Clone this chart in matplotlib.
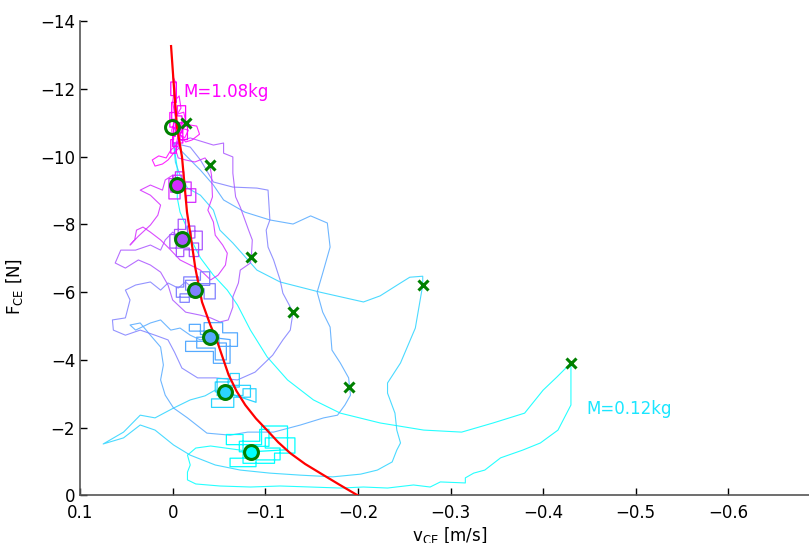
import matplotlib
matplotlib.use("Agg")
import matplotlib.pyplot as plt

# masses (kg) and their colours (MATLAB "cool" map: cyan -> magenta)
masses = [0.12, 0.28, 0.44, 0.60, 0.76, 0.92, 1.08]
colors = [(0.0, 1.0, 1.0), (0.167, 0.833, 1.0), (0.333, 0.667, 1.0),
          (0.5, 0.5, 1.0), (0.667, 0.333, 1.0), (0.833, 0.167, 1.0),
          (1.0, 0.0, 1.0)]

# steady isometric points (circles) and peak-velocity points (crosses)
v_circ = [-0.085, -0.056, -0.040, -0.0245, -0.010, -0.0047, 0.0006]
f_circ = [-1.29, -3.06, -4.67, -6.06, -7.57, -9.16, -10.88]
v_peak = [-0.430, -0.270, -0.1906, -0.130, -0.0846, -0.040, -0.0148]
f_peak = [-3.90, -6.21, -3.19, -5.42, -7.05, -9.75, -10.99]

# Hill force-velocity curve
v_hill = [0.0017, -0.0011, -0.0047, -0.0101, -0.0155, -0.0209, -0.0245, -0.0317,
          -0.0407, -0.0479, -0.0604, -0.069, -0.0784, -0.090, -0.1018, -0.114,
          -0.1269, -0.143, -0.1593, -0.180, -0.2]
f_hill = [-13.26, -12.17, -10.87, -9.99, -8.36, -7.39, -6.71, -5.71,
          -5.03, -4.56, -3.56, -3.08, -2.67, -2.27, -1.93, -1.57,
          -1.25, -0.93, -0.66, -0.32, 0.0]

# measured trajectories, one per mass (release -> peak velocity -> settle)
v_012 = [-0.001, -0.005, -0.005, -0.008, -0.014, -0.019, -0.030, -0.044, -0.059, -0.070,
         -0.084, -0.102, -0.124, -0.152, -0.181, -0.224, -0.271, -0.312, -0.346, -0.380,
         -0.400, -0.415, -0.430, -0.430, -0.416, -0.397, -0.378, -0.354, -0.337, -0.325,
         -0.316, -0.316, -0.289, -0.278, -0.260, -0.232, -0.206, -0.181, -0.149, -0.116,
         -0.084, -0.051, -0.025, -0.016, -0.016, -0.019, -0.016, -0.025, -0.041, -0.057,
         -0.073, -0.085]
f_012 = [-10.40, -9.66, -8.78, -8.36, -7.98, -7.60, -7.01, -6.50, -6.06, -5.62,
         -4.88, -4.09, -3.41, -2.82, -2.43, -2.14, -1.93, -1.87, -2.14, -2.43,
         -3.11, -3.50, -3.91, -2.67, -1.93, -1.55, -1.34, -1.11, -0.75, -0.66,
         -0.52, -0.37, -0.40, -0.25, -0.31, -0.22, -0.25, -0.22, -0.25, -0.28,
         -0.25, -0.28, -0.34, -0.46, -0.69, -0.90, -1.19, -1.40, -1.46, -1.40,
         -1.34, -1.28]

v_028 = [-0.001, -0.003, -0.008, -0.016, -0.030, -0.044, -0.051, -0.065, -0.091, -0.116,
         -0.159, -0.206, -0.224, -0.246, -0.256, -0.270, -0.270, -0.262, -0.246, -0.232,
         -0.232, -0.240, -0.242, -0.246, -0.242, -0.237, -0.221, -0.203, -0.173, -0.138,
         -0.105, -0.073, -0.046, -0.019, -0.001, 0.019, 0.035, 0.053, 0.075, 0.053,
         0.035, 0.019, -0.001, -0.019, -0.035, -0.046, -0.056]
f_028 = [-10.40, -9.83, -9.45, -9.07, -8.86, -8.42, -7.83, -7.45, -6.65, -6.30,
         -6.00, -5.71, -5.89, -6.27, -6.44, -6.47, -6.21, -4.94, -3.91, -3.32,
         -3.02, -2.43, -1.93, -1.55, -1.34, -0.99, -0.75, -0.63, -0.55, -0.60,
         -0.66, -0.75, -0.90, -1.19, -1.49, -1.93, -2.08, -1.70, -1.52, -1.87,
         -2.37, -2.29, -2.58, -2.82, -2.94, -3.11, -3.06]

v_044 = [-0.001, -0.014, -0.030, -0.044, -0.055, -0.078, -0.105, -0.130, -0.149, -0.167,
         -0.170, -0.162, -0.156, -0.162, -0.170, -0.172, -0.181, -0.190, -0.191, -0.192,
         -0.186, -0.178, -0.163, -0.138, -0.109, -0.081, -0.062, -0.037, -0.016, -0.001,
         0.008, 0.013, 0.010, 0.013, 0.024, 0.035, 0.046, 0.040, 0.024, 0.013,
         0.002, -0.008, -0.019, -0.030, -0.040]
f_044 = [-10.40, -10.04, -9.60, -9.16, -8.72, -8.36, -8.13, -8.01, -8.25, -8.04,
         -7.33, -6.56, -6.00, -5.41, -4.97, -4.29, -3.91, -3.47, -3.20, -2.96,
         -2.67, -2.37, -2.29, -2.08, -1.87, -1.87, -1.78, -1.84, -2.29, -2.58,
         -2.96, -3.41, -3.85, -4.38, -4.73, -5.09, -5.03, -4.88, -5.09, -5.18,
         -4.88, -4.94, -4.73, -4.59, -4.67]

v_060 = [-0.001, -0.019, -0.030, -0.044, -0.065, -0.091, -0.103, -0.105, -0.101, -0.103,
         -0.109, -0.116, -0.119, -0.130, -0.127, -0.119, -0.108, -0.089, -0.070, -0.046,
         -0.027, -0.010, -0.002, 0.005, 0.019, 0.035, 0.051, 0.064, 0.065, 0.051,
         0.046, 0.051, 0.040, 0.024, 0.013, 0.005, -0.006, -0.014, -0.024]
f_060 = [-10.40, -10.28, -9.90, -9.25, -9.10, -9.07, -9.01, -8.13, -7.83, -7.33,
         -6.95, -6.36, -5.97, -5.41, -4.88, -4.59, -4.14, -3.64, -3.41, -3.47,
         -3.47, -3.76, -4.23, -4.59, -4.73, -4.88, -4.73, -4.88, -5.18, -5.24,
         -5.77, -6.06, -6.21, -6.30, -6.06, -6.27, -6.12, -6.30, -6.06]

v_076 = [-0.001, -0.019, -0.044, -0.055, -0.055, -0.065, -0.065, -0.068, -0.073, -0.082,
         -0.086, -0.085, -0.084, -0.073, -0.071, -0.065, -0.065, -0.060, -0.051, -0.041,
         -0.030, -0.014, 0.000, 0.005, 0.013, 0.024, 0.037, 0.051, 0.062, 0.056,
         0.040, 0.024, 0.013, 0.008, 0.000, -0.010]
f_076 = [-10.40, -10.55, -10.34, -10.40, -10.10, -9.99, -9.51, -8.81, -8.51, -7.83,
         -7.54, -7.04, -6.86, -6.65, -6.27, -5.86, -5.56, -5.18, -5.12, -5.24,
         -5.32, -5.41, -5.77, -6.21, -6.59, -6.80, -6.95, -6.71, -6.86, -7.24,
         -7.24, -7.39, -7.24, -7.54, -7.77, -7.57]

v_092 = [-0.001, -0.006, -0.014, -0.024, -0.035, -0.040, -0.042, -0.043, -0.038, -0.044,
         -0.046, -0.054, -0.059, -0.057, -0.049, -0.041, -0.030, -0.019, -0.008, 0.002,
         0.013, 0.024, 0.032, 0.039, 0.041, 0.046, 0.037, 0.024, 0.016, 0.013,
         0.024, 0.035, 0.024, 0.011, 0.008, 0.000, -0.005]
f_092 = [-10.40, -9.96, -9.90, -9.84, -9.96, -9.75, -9.45, -8.81, -8.42, -8.07,
         -7.68, -7.39, -7.15, -6.80, -6.50, -6.36, -6.65, -6.80, -6.95, -7.24,
         -7.54, -7.77, -7.92, -7.83, -7.54, -7.39, -7.65, -7.98, -8.27, -8.57,
         -8.86, -9.01, -9.16, -9.01, -9.31, -9.45, -9.16]

v_108 = [-0.001, 0.001, -0.003, 0.000, -0.002, 0.000, -0.004, -0.003, -0.007, -0.009,
         -0.005, -0.012, -0.014, -0.009, -0.017, -0.013, -0.006, -0.004, 0.002, 0.007,
         0.015, 0.022, 0.019, 0.011, 0.005, -0.002, -0.008, -0.006, -0.015, -0.019,
         -0.026, -0.029, -0.021, -0.014, -0.006, 0.000]
f_108 = [-10.40, -10.78, -11.14, -11.61, -12.02, -12.38, -12.14, -11.67, -11.79, -11.43,
         -11.25, -11.31, -11.05, -10.84, -10.78, -10.55, -10.69, -10.34, -10.19, -9.96,
         -10.02, -9.90, -9.72, -9.78, -9.90, -10.13, -10.28, -10.55, -11.02, -10.93,
         -10.90, -10.66, -10.49, -10.43, -10.72, -10.87]

# jittery settling around each circle (holding phase)
vc_012 = [-0.085, -0.072, -0.072, -0.094, -0.094, -0.104, -0.104, -0.080, -0.080, -0.062,
          -0.062, -0.090, -0.090, -0.116, -0.116, -0.100, -0.100, -0.132, -0.132, -0.110,
          -0.110, -0.076, -0.076, -0.058, -0.058, -0.096, -0.096, -0.124, -0.124, -0.085]
fc_012 = [-1.29, -1.29, -1.60, -1.60, -1.95, -1.95, -1.45, -1.45, -1.10, -1.10,
          -0.85, -0.85, -1.05, -1.05, -1.40, -1.40, -1.70, -1.70, -1.25, -1.25,
          -0.95, -0.95, -1.80, -1.80, -1.50, -1.50, -2.05, -2.05, -1.35, -1.29]
vc_028 = [-0.056, -0.046, -0.046, -0.062, -0.062, -0.072, -0.072, -0.052, -0.052, -0.042,
          -0.042, -0.066, -0.066, -0.084, -0.084, -0.060, -0.060, -0.048, -0.048, -0.076,
          -0.076, -0.090, -0.090, -0.056]
fc_028 = [-3.06, -3.06, -3.35, -3.35, -3.60, -3.60, -3.20, -3.20, -2.85, -2.85,
          -2.60, -2.60, -2.90, -2.90, -3.25, -3.25, -3.45, -3.45, -2.95, -2.95,
          -3.15, -3.15, -2.75, -3.06]
vc_044 = [-0.040, -0.026, -0.026, -0.046, -0.046, -0.058, -0.058, -0.036, -0.036, -0.018,
          -0.018, -0.030, -0.030, -0.050, -0.050, -0.070, -0.070, -0.054, -0.054, -0.034,
          -0.034, -0.014, -0.014, -0.044, -0.044, -0.062, -0.062, -0.040]
fc_044 = [-4.67, -4.67, -4.35, -4.35, -4.00, -4.00, -4.50, -4.50, -4.85, -4.85,
          -5.05, -5.05, -4.75, -4.75, -4.40, -4.40, -4.80, -4.80, -5.10, -5.10,
          -4.55, -4.55, -4.25, -4.25, -3.90, -3.90, -4.60, -4.67]
vc_060 = [-0.024, -0.014, -0.014, -0.030, -0.030, -0.040, -0.040, -0.022, -0.022, -0.008,
          -0.008, -0.018, -0.018, -0.034, -0.034, -0.046, -0.046, -0.028, -0.028, -0.012,
          -0.012, -0.004, -0.004, -0.026, -0.026, -0.024]
fc_060 = [-6.06, -6.06, -6.35, -6.35, -6.60, -6.60, -6.20, -6.20, -5.95, -5.95,
          -5.70, -5.70, -6.10, -6.10, -5.80, -5.80, -6.25, -6.25, -6.45, -6.45,
          -6.15, -6.15, -5.85, -5.85, -6.00, -6.06]
vc_076 = [-0.010, -0.002, -0.002, -0.014, -0.014, -0.006, -0.006, 0.003, 0.003, -0.018,
          -0.018, -0.028, -0.028, -0.020, -0.020, -0.032, -0.032, -0.012, -0.012, -0.004,
          -0.004, -0.016, -0.016, -0.024, -0.024, -0.010]
fc_076 = [-7.57, -7.57, -7.85, -7.85, -8.15, -8.15, -7.70, -7.70, -7.30, -7.30,
          -7.05, -7.05, -7.45, -7.45, -7.80, -7.80, -7.25, -7.25, -7.05, -7.05,
          -7.40, -7.40, -7.95, -7.95, -7.60, -7.57]
vc_092 = [-0.005, 0.002, 0.002, -0.008, -0.008, 0.004, 0.004, -0.003, -0.003, -0.012,
          -0.012, -0.020, -0.020, -0.015, -0.015, -0.025, -0.025, -0.010, -0.010, 0.000,
          0.000, -0.006, -0.006, -0.014, -0.014, -0.005]
fc_092 = [-9.16, -9.16, -8.95, -8.95, -8.75, -8.75, -9.35, -9.35, -9.55, -9.55,
          -9.25, -9.25, -8.85, -8.85, -8.65, -8.65, -9.05, -9.05, -9.45, -9.45,
          -9.30, -9.30, -9.00, -9.00, -9.20, -9.16]
vc_108 = [0.000, 0.003, 0.003, -0.002, -0.002, 0.002, 0.002, -0.004, -0.004, 0.001,
          0.001, -0.003, -0.003, 0.000, 0.000, -0.006, -0.006, -0.010, -0.010, -0.005,
          -0.005, -0.014, -0.014, -0.008, -0.008, -0.016, -0.016, -0.011, -0.011, -0.004,
          -0.004, 0.002, 0.002, -0.001, -0.001, -0.007, -0.007, 0.000]
fc_108 = [-10.87, -10.87, -11.30, -11.30, -11.80, -11.80, -12.20, -12.20, -11.60, -11.60,
          -11.10, -11.10, -10.60, -10.60, -10.30, -10.30, -10.70, -10.70, -11.20, -11.20,
          -11.50, -11.50, -11.00, -11.00, -10.50, -10.50, -10.90, -10.90, -10.40, -10.40,
          -10.10, -10.10, -10.50, -10.50, -11.00, -11.00, -10.80, -10.87]

traj_v = [v_012, v_028, v_044, v_060, v_076, v_092, v_108]
traj_f = [f_012, f_028, f_044, f_060, f_076, f_092, f_108]
hold_v = [vc_012, vc_028, vc_044, vc_060, vc_076, vc_092, vc_108]
hold_f = [fc_012, fc_028, fc_044, fc_060, fc_076, fc_092, fc_108]

fig = plt.figure(figsize=(8.09, 5.43), dpi=100)
ax = fig.add_axes([0.0989, 0.0875, 0.9011, 0.8738])

for vv, ff, c in zip(traj_v, traj_f, colors):
    ax.plot(vv, ff, color=c, lw=0.8, alpha=0.85, zorder=2)
for vv, ff, c in zip(hold_v, hold_f, colors):
    ax.plot(vv, ff, color=c, lw=0.9, zorder=2)

ax.plot(v_hill, f_hill, color="red", lw=1.6, zorder=3)

for i, c in enumerate(colors):
    face = "none" if masses[i] == 1.08 else c
    ax.plot(v_circ[i], f_circ[i], "o", ms=10, mfc=face, mec="green", mew=2.2, zorder=4)
    ax.plot(v_peak[i], f_peak[i], "x", ms=7, color="green", mew=2.2, zorder=4)

ax.text(-0.0115, -11.9, "M=1.08kg", color="magenta", fontsize=12, va="center")
ax.text(-0.447, -2.55, "M=0.12kg", color=(0.1, 0.9, 1.0), fontsize=12, va="center")

ax.set_xlim(0.1, -0.687)
ax.set_ylim(0, -14)
ax.set_xticks([0.1, 0, -0.1, -0.2, -0.3, -0.4, -0.5, -0.6])
ax.set_xticklabels(["0.1", "0", "\u22120.1", "\u22120.2", "\u22120.3", "\u22120.4", "\u22120.5", "\u22120.6"])
ax.set_yticks([0, -2, -4, -6, -8, -10, -12, -14])
ax.tick_params(direction="in", length=5, labelsize=12, width=1)
ax.tick_params(axis="x", pad=6)
for s in ["top", "right"]:
    ax.spines[s].set_visible(False)
for s in ["left", "bottom"]:
    ax.spines[s].set_color("#555555")
    ax.spines[s].set_linewidth(1.2)

ax.set_xlabel(r"v$_{\mathrm{CE}}$ [m/s]", fontsize=12)
ax.set_ylabel(r"F$_{\mathrm{CE}}$ [N]", fontsize=12)
ax.xaxis.set_label_coords(0.507, -0.062)
ax.yaxis.set_label_coords(-0.075, 0.44)

fig.savefig("out.png", dpi=100)
